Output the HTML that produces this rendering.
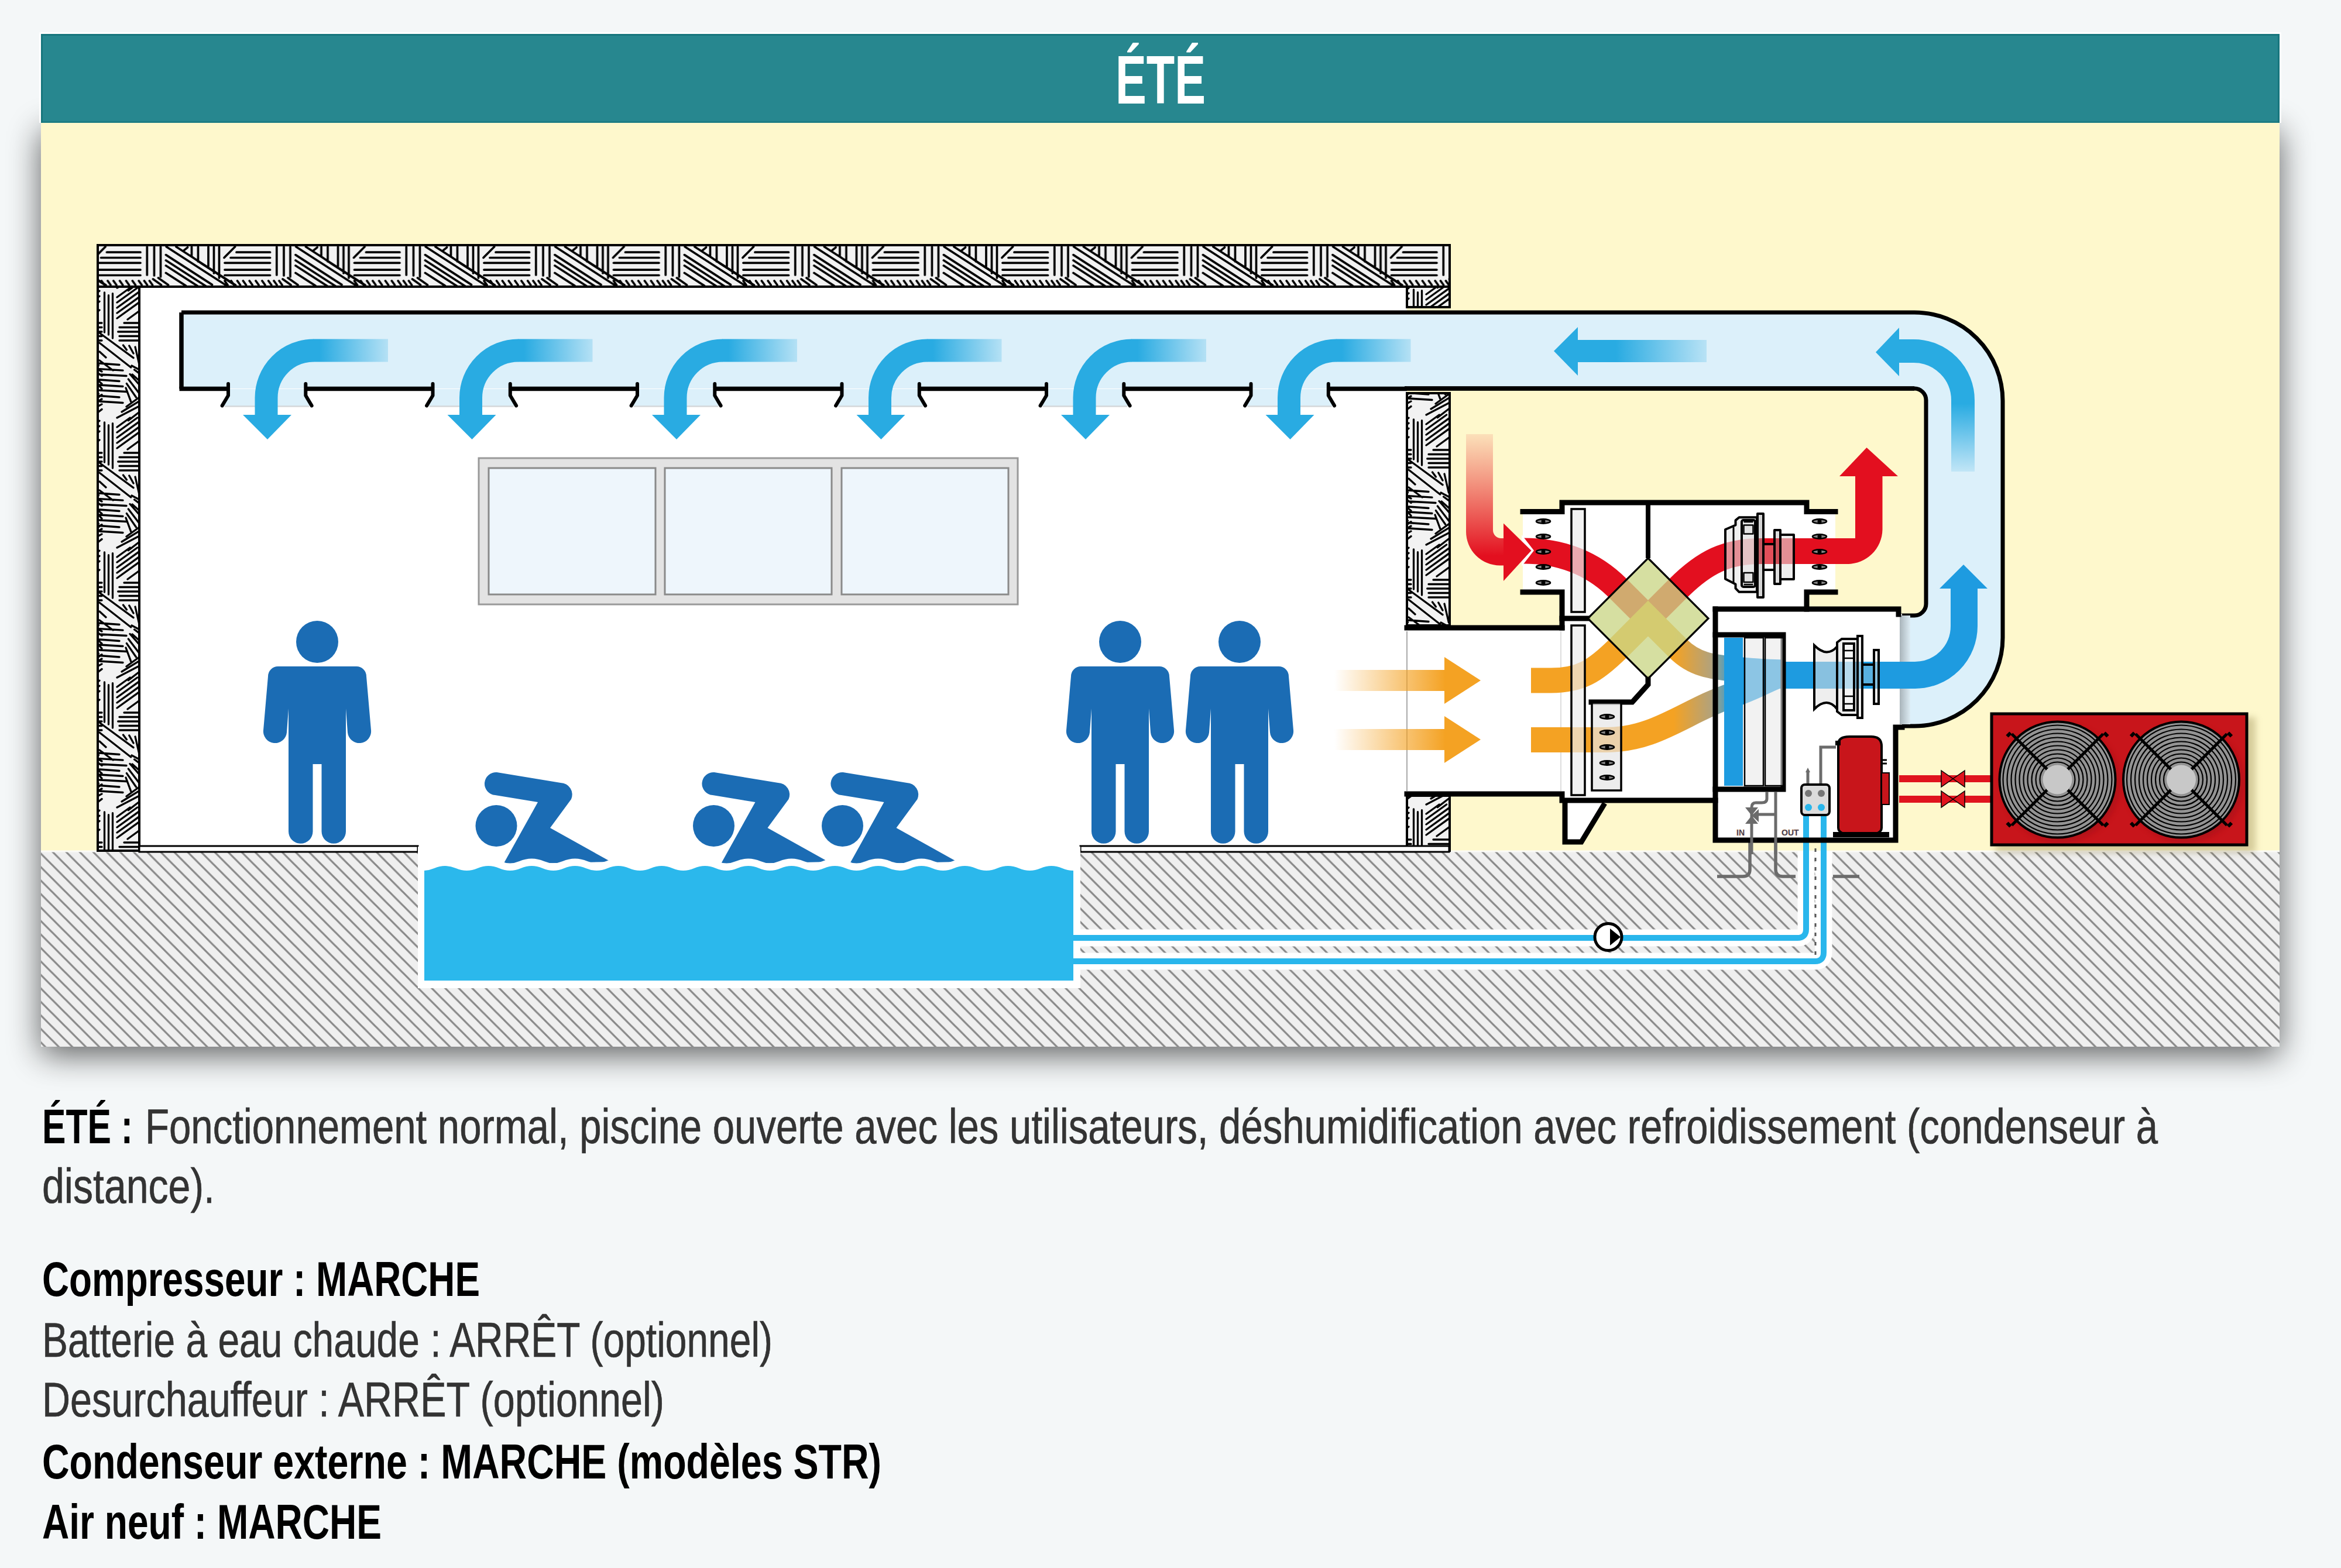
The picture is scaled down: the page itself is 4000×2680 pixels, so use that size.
<!DOCTYPE html><html><head><meta charset="utf-8"><style>html,body{margin:0;padding:0;background:#f4f7f8;}svg{display:block;}</style></head><body><svg width="4000" height="2680" viewBox="0 0 4000 2680"><defs><pattern id="ground" patternUnits="userSpaceOnUse" width="23.047" height="23.047" patternTransform="translate(158,1455)">
<rect width="23.047" height="23.047" fill="#efefef"/>
<path d="M-5,-5 L28.047,28.047 M-5,18.047 L5,28.047 M18.047,-5 L28.047,5" stroke="#888" stroke-width="3.2"/>
</pattern><filter id="shadow" x="-6%" y="-10%" width="112%" height="125%">
<feGaussianBlur stdDeviation="28"/><feOffset dy="14"/><feComponentTransfer><feFuncA type="linear" slope="0.62"/></feComponentTransfer></filter><pattern id="wallH" patternUnits="userSpaceOnUse" width="221.5" height="71" patternTransform="translate(384,419)"><rect width="221.5" height="71" fill="#f2f2f2"/><path d="M-201.5,12.2L-144.0,12.2M20.0,-58.8L77.5,-58.8M20.0,12.2L77.5,12.2M20.0,83.2L77.5,83.2M241.5,12.2L299.0,12.2M-211.5,21.5L-144.0,21.5M10.0,-49.5L77.5,-49.5M10.0,21.5L77.5,21.5M10.0,92.5L77.5,92.5M231.5,21.5L299.0,21.5M-221.5,30.3L-144.0,30.3M0.0,-40.7L77.5,-40.7M0.0,30.3L77.5,30.3M0.0,101.3L77.5,101.3M221.5,30.3L299.0,30.3M-221.5,42.1L-144.0,42.1M0.0,-28.9L77.5,-28.9M0.0,42.1L77.5,42.1M0.0,113.1L77.5,113.1M221.5,42.1L299.0,42.1M-221.5,51.5L-144.0,51.5M0.0,-19.5L77.5,-19.5M0.0,51.5L77.5,51.5M0.0,122.5L77.5,122.5M221.5,51.5L299.0,51.5M-222.5,21.5L-203.9,2.8M-1.0,-49.5L17.6,-68.2M-1.0,21.5L17.6,2.8M-1.0,92.5L17.6,73.8M220.5,21.5L239.1,2.8M-132.7,3.0L-132.7,51.0M88.8,-68.0L88.8,-20.0M88.8,3.0L88.8,51.0M88.8,74.0L88.8,122.0M310.3,3.0L310.3,51.0M-120.5,3.0L-120.5,52.0M101.0,-68.0L101.0,-19.0M101.0,3.0L101.0,52.0M101.0,74.0L101.0,123.0M322.5,3.0L322.5,52.0M-109.5,3.0L-109.5,54.0M112.0,-68.0L112.0,-17.0M112.0,3.0L112.0,54.0M112.0,74.0L112.0,125.0M333.5,3.0L333.5,54.0M-99.7,2.8L5.0,70.3M121.8,-68.2L226.5,-0.7M121.8,2.8L226.5,70.3M121.8,73.8L226.5,141.3M343.3,2.8L448.0,70.3M-83.0,2.8L18.5,68.3M138.5,-68.2L240.0,-2.7M138.5,2.8L240.0,68.3M138.5,73.8L240.0,139.3M360.0,2.8L461.5,68.3M-100.5,16.6L-21.5,67.6M121.0,-54.4L200.0,-3.4M121.0,16.6L200.0,67.6M121.0,87.6L200.0,138.6M342.5,16.6L421.5,67.6M-100.5,35.0L-46.5,69.8M121.0,-36.0L175.0,-1.2M121.0,35.0L175.0,69.8M121.0,106.0L175.0,140.8M342.5,35.0L396.5,69.8M-100.5,47.5L-66.5,69.4M121.0,-23.5L155.0,-1.6M121.0,47.5L155.0,69.4M121.0,118.5L155.0,140.4M342.5,47.5L376.5,69.4M-100.5,26.0L-31.5,70.5M121.0,-45.0L190.0,-0.5M121.0,26.0L190.0,70.5M121.0,97.0L190.0,141.5M342.5,26.0L411.5,70.5M-59.5,17.6L-38.8,32.0M162.0,-53.4L182.7,-39.0M162.0,17.6L182.7,32.0M162.0,88.6L182.7,103.0M383.5,17.6L404.2,32.0M-38.8,32.0L14.5,66.4M182.7,-39.0L236.0,-4.6M182.7,32.0L236.0,66.4M182.7,103.0L236.0,137.4M404.2,32.0L457.5,66.4M-70.5,9.7L-63.5,3.8M151.0,-61.3L158.0,-67.2M151.0,9.7L158.0,3.8M151.0,80.7L158.0,74.8M372.5,9.7L379.5,3.8M-56.5,3.0L-56.5,19.0M165.0,-68.0L165.0,-52.0M165.0,3.0L165.0,19.0M165.0,74.0L165.0,90.0M386.5,3.0L386.5,19.0M-45.5,3.0L-45.5,28.0M176.0,-68.0L176.0,-43.0M176.0,3.0L176.0,28.0M176.0,74.0L176.0,99.0M397.5,3.0L397.5,28.0M-28.0,3.0L-28.0,39.0M193.5,-68.0L193.5,-32.0M193.5,3.0L193.5,39.0M193.5,74.0L193.5,110.0M415.0,3.0L415.0,39.0M-18.5,3.0L-18.5,48.0M203.0,-68.0L203.0,-23.0M203.0,3.0L203.0,48.0M203.0,74.0L203.0,119.0M424.5,3.0L424.5,48.0M-9.5,3.0L-9.5,56.0M212.0,-68.0L212.0,-15.0M212.0,3.0L212.0,56.0M212.0,74.0L212.0,127.0M433.5,3.0L433.5,56.0M-221.5,61.0L-216.5,68.0M0.0,-10.0L5.0,-3.0M0.0,61.0L5.0,68.0M0.0,132.0L5.0,139.0M221.5,61.0L226.5,68.0M-210.5,61.0L-205.5,68.0M11.0,-10.0L16.0,-3.0M11.0,61.0L16.0,68.0M11.0,132.0L16.0,139.0M232.5,61.0L237.5,68.0M-200.0,61.0L-195.0,68.0M21.5,-10.0L26.5,-3.0M21.5,61.0L26.5,68.0M21.5,132.0L26.5,139.0M243.0,61.0L248.0,68.0M-190.1,61.0L-185.1,68.0M31.4,-10.0L36.4,-3.0M31.4,61.0L36.4,68.0M31.4,132.0L36.4,139.0M252.9,61.0L257.9,68.0M-179.3,61.0L-174.3,68.0M42.2,-10.0L47.2,-3.0M42.2,61.0L47.2,68.0M42.2,132.0L47.2,139.0M263.7,61.0L268.7,68.0M-168.5,61.0L-163.5,68.0M53.0,-10.0L58.0,-3.0M53.0,61.0L58.0,68.0M53.0,132.0L58.0,139.0M274.5,61.0L279.5,68.0M-157.6,61.0L-152.6,68.0M63.9,-10.0L68.9,-3.0M63.9,61.0L68.9,68.0M63.9,132.0L68.9,139.0M285.4,61.0L290.4,68.0M-146.8,61.0L-141.8,68.0M74.7,-10.0L79.7,-3.0M74.7,61.0L79.7,68.0M74.7,132.0L79.7,139.0M296.2,61.0L301.2,68.0M-137.5,61.0L-132.5,68.0M84.0,-10.0L89.0,-3.0M84.0,61.0L89.0,68.0M84.0,132.0L89.0,139.0M305.5,61.0L310.5,68.0M-128.5,61.0L-123.5,68.0M93.0,-10.0L98.0,-3.0M93.0,61.0L98.0,68.0M93.0,132.0L98.0,139.0M314.5,61.0L319.5,68.0M-122.5,58.0L-108.5,68.0M99.0,-13.0L113.0,-3.0M99.0,58.0L113.0,68.0M99.0,129.0L113.0,139.0M320.5,58.0L334.5,68.0M-113.5,56.0L-96.5,68.0M108.0,-15.0L125.0,-3.0M108.0,56.0L125.0,68.0M108.0,127.0L125.0,139.0M329.5,56.0L346.5,68.0" stroke="#000" stroke-width="3.7" stroke-linecap="round" fill="none"/></pattern><pattern id="wallV" patternUnits="userSpaceOnUse" width="70" height="222" patternTransform="translate(168,490)"><rect width="70" height="222" fill="#f2f2f2"/><path d="M-59.5,10.0L-59.5,78.0M10.5,-212.0L10.5,-144.0M10.5,10.0L10.5,78.0M10.5,232.0L10.5,300.0M80.5,10.0L80.5,78.0M-52.5,14.7L-52.5,82.0M17.5,-207.3L17.5,-140.0M17.5,14.7L17.5,82.0M17.5,236.7L17.5,304.0M87.5,14.7L87.5,82.0M-45.5,11.7L-45.5,88.0M24.5,-210.3L24.5,-134.0M24.5,11.7L24.5,88.0M24.5,233.7L24.5,310.0M94.5,11.7L94.5,88.0M-38.0,18.0L-15.8,2.0M32.0,-204.0L54.2,-220.0M32.0,18.0L54.2,2.0M32.0,240.0L54.2,224.0M102.0,18.0L124.2,2.0M-38.0,27.0L-3.3,2.0M32.0,-195.0L66.7,-220.0M32.0,27.0L66.7,2.0M32.0,249.0L66.7,224.0M102.0,27.0L136.7,2.0M-38.0,36.0L2.0,7.2M32.0,-186.0L72.0,-214.8M32.0,36.0L72.0,7.2M32.0,258.0L72.0,229.2M102.0,36.0L142.0,7.2M-38.0,45.0L2.0,16.2M32.0,-177.0L72.0,-205.8M32.0,45.0L72.0,16.2M32.0,267.0L72.0,238.2M102.0,45.0L142.0,16.2M-38.0,54.0L2.0,25.2M32.0,-168.0L72.0,-196.8M32.0,54.0L72.0,25.2M32.0,276.0L72.0,247.2M102.0,54.0L142.0,25.2M-20.0,56.0L2.0,40.0M50.0,-166.0L72.0,-182.0M50.0,56.0L72.0,40.0M50.0,278.0L72.0,262.0M120.0,56.0L142.0,40.0M-26.0,62.0L6.0,62.0M44.0,-160.0L76.0,-160.0M44.0,62.0L76.0,62.0M44.0,284.0L76.0,284.0M114.0,62.0L146.0,62.0M-34.0,69.5L6.0,69.5M36.0,-152.5L76.0,-152.5M36.0,69.5L76.0,69.5M36.0,291.5L76.0,291.5M106.0,69.5L146.0,69.5M-36.3,77.0L6.0,77.0M33.7,-145.0L76.0,-145.0M33.7,77.0L76.0,77.0M33.7,299.0L76.0,299.0M103.7,77.0L146.0,77.0M-34.0,84.5L6.0,84.5M36.0,-137.5L76.0,-137.5M36.0,84.5L76.0,84.5M36.0,306.5L76.0,306.5M106.0,84.5L146.0,84.5M-34.0,92.0L6.0,92.0M36.0,-130.0L76.0,-130.0M36.0,92.0L76.0,92.0M36.0,314.0L76.0,314.0M106.0,92.0L146.0,92.0M-68.0,79.0L-10.0,121.7M2.0,-143.0L60.0,-100.3M2.0,79.0L60.0,121.7M2.0,301.0L60.0,343.7M72.0,79.0L130.0,121.7M-68.0,96.0L-14.3,138.0M2.0,-126.0L55.7,-84.0M2.0,96.0L55.7,138.0M2.0,318.0L55.7,360.0M72.0,96.0L125.7,138.0M-68.0,111.0L-57.0,121.0M2.0,-111.0L13.0,-101.0M2.0,111.0L13.0,121.0M2.0,333.0L13.0,343.0M72.0,111.0L83.0,121.0M-68.0,126.0L-45.0,143.0M2.0,-96.0L25.0,-79.0M2.0,126.0L25.0,143.0M2.0,348.0L25.0,365.0M72.0,126.0L95.0,143.0M-27.5,100.0L-21.6,108.0M42.5,-122.0L48.4,-114.0M42.5,100.0L48.4,108.0M42.5,322.0L48.4,330.0M112.5,100.0L118.4,108.0M-17.2,101.0L-10.0,114.0M52.8,-121.0L60.0,-108.0M52.8,101.0L60.0,114.0M52.8,323.0L60.0,336.0M122.8,101.0L130.0,114.0M-7.0,103.0L0.4,134.9M63.0,-119.0L70.4,-87.1M63.0,103.0L70.4,134.9M63.0,325.0L70.4,356.9M133.0,103.0L140.4,134.9M-68.0,131.0L-34.0,133.5M2.0,-91.0L36.0,-88.5M2.0,131.0L36.0,133.5M2.0,353.0L36.0,355.5M72.0,131.0L106.0,133.5M-68.0,140.7L-28.0,143.2M2.0,-81.3L42.0,-78.8M2.0,140.7L42.0,143.2M2.0,362.7L42.0,365.2M72.0,140.7L112.0,143.2M-68.0,150.0L-22.0,152.5M2.0,-72.0L48.0,-69.5M2.0,150.0L48.0,152.5M2.0,372.0L48.0,374.5M72.0,150.0L118.0,152.5M-68.0,159.0L-34.0,161.5M2.0,-63.0L36.0,-60.5M2.0,159.0L36.0,161.5M2.0,381.0L36.0,383.5M72.0,159.0L106.0,161.5M-68.0,168.0L-28.0,170.5M2.0,-54.0L42.0,-51.5M2.0,168.0L42.0,170.5M2.0,390.0L42.0,392.5M72.0,168.0L112.0,170.5M-68.0,177.0L-22.0,179.5M2.0,-45.0L48.0,-42.5M2.0,177.0L48.0,179.5M2.0,399.0L48.0,401.5M72.0,177.0L118.0,179.5M-68.0,186.5L-34.0,189.0M2.0,-35.5L36.0,-33.0M2.0,186.5L36.0,189.0M2.0,408.5L36.0,411.0M72.0,186.5L106.0,189.0M-68.0,196.0L-28.0,198.5M2.0,-26.0L42.0,-23.5M2.0,196.0L42.0,198.5M2.0,418.0L42.0,420.5M72.0,196.0L112.0,198.5M-13.0,135.0L6.0,145.0M57.0,-87.0L76.0,-77.0M57.0,135.0L76.0,145.0M57.0,357.0L76.0,367.0M127.0,135.0L146.0,145.0M-8.4,142.0L6.0,152.5M61.6,-80.0L76.0,-69.5M61.6,142.0L76.0,152.5M61.6,364.0L76.0,374.5M131.6,142.0L146.0,152.5M-16.0,149.5L6.0,174.4M54.0,-72.5L76.0,-47.6M54.0,149.5L76.0,174.4M54.0,371.5L76.0,396.4M124.0,149.5L146.0,174.4M-18.7,158.0L0.4,183.0M51.3,-64.0L70.4,-39.0M51.3,158.0L70.4,183.0M51.3,380.0L70.4,405.0M121.3,158.0L140.4,183.0M-21.6,165.6L-5.5,189.0M48.4,-56.4L64.5,-33.0M48.4,165.6L64.5,189.0M48.4,387.6L64.5,411.0M118.4,165.6L134.5,189.0M-23.0,173.0L-14.3,196.4M47.0,-49.0L55.7,-25.6M47.0,173.0L55.7,196.4M47.0,395.0L55.7,418.4M117.0,173.0L125.7,196.4M-12.0,150.0L6.0,166.0M58.0,-72.0L76.0,-56.0M58.0,150.0L76.0,166.0M58.0,372.0L76.0,388.0M128.0,150.0L146.0,166.0M-22.0,205.0L6.0,184.7M48.0,-17.0L76.0,-37.3M48.0,205.0L76.0,184.7M48.0,427.0L76.0,406.7M118.0,205.0L146.0,184.7M-38.0,224.0L6.0,200.9M32.0,2.0L76.0,-21.1M32.0,224.0L76.0,200.9M32.0,446.0L76.0,422.9M102.0,224.0L146.0,200.9M-18.7,228.7L6.0,209.6M51.3,6.7L76.0,-12.4M51.3,228.7L76.0,209.6M51.3,450.7L76.0,431.6M121.3,228.7L146.0,209.6M-30.0,214.0L6.0,192.0M40.0,-8.0L76.0,-30.0M40.0,214.0L76.0,192.0M40.0,436.0L76.0,414.0M110.0,214.0L146.0,192.0" stroke="#000" stroke-width="3.3" stroke-linecap="round" fill="none"/></pattern><pattern id="wallV2" patternUnits="userSpaceOnUse" width="70" height="222" patternTransform="translate(2405,485)"><rect width="70" height="222" fill="#f2f2f2"/><path d="M-59.5,10.0L-59.5,78.0M10.5,-212.0L10.5,-144.0M10.5,10.0L10.5,78.0M10.5,232.0L10.5,300.0M80.5,10.0L80.5,78.0M-52.5,14.7L-52.5,82.0M17.5,-207.3L17.5,-140.0M17.5,14.7L17.5,82.0M17.5,236.7L17.5,304.0M87.5,14.7L87.5,82.0M-45.5,11.7L-45.5,88.0M24.5,-210.3L24.5,-134.0M24.5,11.7L24.5,88.0M24.5,233.7L24.5,310.0M94.5,11.7L94.5,88.0M-38.0,18.0L-15.8,2.0M32.0,-204.0L54.2,-220.0M32.0,18.0L54.2,2.0M32.0,240.0L54.2,224.0M102.0,18.0L124.2,2.0M-38.0,27.0L-3.3,2.0M32.0,-195.0L66.7,-220.0M32.0,27.0L66.7,2.0M32.0,249.0L66.7,224.0M102.0,27.0L136.7,2.0M-38.0,36.0L2.0,7.2M32.0,-186.0L72.0,-214.8M32.0,36.0L72.0,7.2M32.0,258.0L72.0,229.2M102.0,36.0L142.0,7.2M-38.0,45.0L2.0,16.2M32.0,-177.0L72.0,-205.8M32.0,45.0L72.0,16.2M32.0,267.0L72.0,238.2M102.0,45.0L142.0,16.2M-38.0,54.0L2.0,25.2M32.0,-168.0L72.0,-196.8M32.0,54.0L72.0,25.2M32.0,276.0L72.0,247.2M102.0,54.0L142.0,25.2M-20.0,56.0L2.0,40.0M50.0,-166.0L72.0,-182.0M50.0,56.0L72.0,40.0M50.0,278.0L72.0,262.0M120.0,56.0L142.0,40.0M-26.0,62.0L6.0,62.0M44.0,-160.0L76.0,-160.0M44.0,62.0L76.0,62.0M44.0,284.0L76.0,284.0M114.0,62.0L146.0,62.0M-34.0,69.5L6.0,69.5M36.0,-152.5L76.0,-152.5M36.0,69.5L76.0,69.5M36.0,291.5L76.0,291.5M106.0,69.5L146.0,69.5M-36.3,77.0L6.0,77.0M33.7,-145.0L76.0,-145.0M33.7,77.0L76.0,77.0M33.7,299.0L76.0,299.0M103.7,77.0L146.0,77.0M-34.0,84.5L6.0,84.5M36.0,-137.5L76.0,-137.5M36.0,84.5L76.0,84.5M36.0,306.5L76.0,306.5M106.0,84.5L146.0,84.5M-34.0,92.0L6.0,92.0M36.0,-130.0L76.0,-130.0M36.0,92.0L76.0,92.0M36.0,314.0L76.0,314.0M106.0,92.0L146.0,92.0M-68.0,79.0L-10.0,121.7M2.0,-143.0L60.0,-100.3M2.0,79.0L60.0,121.7M2.0,301.0L60.0,343.7M72.0,79.0L130.0,121.7M-68.0,96.0L-14.3,138.0M2.0,-126.0L55.7,-84.0M2.0,96.0L55.7,138.0M2.0,318.0L55.7,360.0M72.0,96.0L125.7,138.0M-68.0,111.0L-57.0,121.0M2.0,-111.0L13.0,-101.0M2.0,111.0L13.0,121.0M2.0,333.0L13.0,343.0M72.0,111.0L83.0,121.0M-68.0,126.0L-45.0,143.0M2.0,-96.0L25.0,-79.0M2.0,126.0L25.0,143.0M2.0,348.0L25.0,365.0M72.0,126.0L95.0,143.0M-27.5,100.0L-21.6,108.0M42.5,-122.0L48.4,-114.0M42.5,100.0L48.4,108.0M42.5,322.0L48.4,330.0M112.5,100.0L118.4,108.0M-17.2,101.0L-10.0,114.0M52.8,-121.0L60.0,-108.0M52.8,101.0L60.0,114.0M52.8,323.0L60.0,336.0M122.8,101.0L130.0,114.0M-7.0,103.0L0.4,134.9M63.0,-119.0L70.4,-87.1M63.0,103.0L70.4,134.9M63.0,325.0L70.4,356.9M133.0,103.0L140.4,134.9M-68.0,131.0L-34.0,133.5M2.0,-91.0L36.0,-88.5M2.0,131.0L36.0,133.5M2.0,353.0L36.0,355.5M72.0,131.0L106.0,133.5M-68.0,140.7L-28.0,143.2M2.0,-81.3L42.0,-78.8M2.0,140.7L42.0,143.2M2.0,362.7L42.0,365.2M72.0,140.7L112.0,143.2M-68.0,150.0L-22.0,152.5M2.0,-72.0L48.0,-69.5M2.0,150.0L48.0,152.5M2.0,372.0L48.0,374.5M72.0,150.0L118.0,152.5M-68.0,159.0L-34.0,161.5M2.0,-63.0L36.0,-60.5M2.0,159.0L36.0,161.5M2.0,381.0L36.0,383.5M72.0,159.0L106.0,161.5M-68.0,168.0L-28.0,170.5M2.0,-54.0L42.0,-51.5M2.0,168.0L42.0,170.5M2.0,390.0L42.0,392.5M72.0,168.0L112.0,170.5M-68.0,177.0L-22.0,179.5M2.0,-45.0L48.0,-42.5M2.0,177.0L48.0,179.5M2.0,399.0L48.0,401.5M72.0,177.0L118.0,179.5M-68.0,186.5L-34.0,189.0M2.0,-35.5L36.0,-33.0M2.0,186.5L36.0,189.0M2.0,408.5L36.0,411.0M72.0,186.5L106.0,189.0M-68.0,196.0L-28.0,198.5M2.0,-26.0L42.0,-23.5M2.0,196.0L42.0,198.5M2.0,418.0L42.0,420.5M72.0,196.0L112.0,198.5M-13.0,135.0L6.0,145.0M57.0,-87.0L76.0,-77.0M57.0,135.0L76.0,145.0M57.0,357.0L76.0,367.0M127.0,135.0L146.0,145.0M-8.4,142.0L6.0,152.5M61.6,-80.0L76.0,-69.5M61.6,142.0L76.0,152.5M61.6,364.0L76.0,374.5M131.6,142.0L146.0,152.5M-16.0,149.5L6.0,174.4M54.0,-72.5L76.0,-47.6M54.0,149.5L76.0,174.4M54.0,371.5L76.0,396.4M124.0,149.5L146.0,174.4M-18.7,158.0L0.4,183.0M51.3,-64.0L70.4,-39.0M51.3,158.0L70.4,183.0M51.3,380.0L70.4,405.0M121.3,158.0L140.4,183.0M-21.6,165.6L-5.5,189.0M48.4,-56.4L64.5,-33.0M48.4,165.6L64.5,189.0M48.4,387.6L64.5,411.0M118.4,165.6L134.5,189.0M-23.0,173.0L-14.3,196.4M47.0,-49.0L55.7,-25.6M47.0,173.0L55.7,196.4M47.0,395.0L55.7,418.4M117.0,173.0L125.7,196.4M-12.0,150.0L6.0,166.0M58.0,-72.0L76.0,-56.0M58.0,150.0L76.0,166.0M58.0,372.0L76.0,388.0M128.0,150.0L146.0,166.0M-22.0,205.0L6.0,184.7M48.0,-17.0L76.0,-37.3M48.0,205.0L76.0,184.7M48.0,427.0L76.0,406.7M118.0,205.0L146.0,184.7M-38.0,224.0L6.0,200.9M32.0,2.0L76.0,-21.1M32.0,224.0L76.0,200.9M32.0,446.0L76.0,422.9M102.0,224.0L146.0,200.9M-18.7,228.7L6.0,209.6M51.3,6.7L76.0,-12.4M51.3,228.7L76.0,209.6M51.3,450.7L76.0,431.6M121.3,228.7L146.0,209.6M-30.0,214.0L6.0,192.0M40.0,-8.0L76.0,-30.0M40.0,214.0L76.0,192.0M40.0,436.0L76.0,414.0M110.0,214.0L146.0,192.0" stroke="#000" stroke-width="3.3" stroke-linecap="round" fill="none"/></pattern><clipPath id="cPool"><rect x="725" y="1400" width="1109" height="300"/></clipPath><linearGradient id="gStrip" x1="0" y1="0" x2="1" y2="0"><stop offset="0" stop-color="#a9b4ba"/><stop offset="1" stop-color="#dcebf3"/></linearGradient><clipPath id="cGround"><rect x="70" y="1455" width="3825" height="335"/></clipPath><linearGradient id="gRedV" gradientUnits="userSpaceOnUse" x1="0" y1="742" x2="0" y2="950">
<stop offset="0" stop-color="#e8302f" stop-opacity="0.12"/><stop offset="1" stop-color="#e30f1f"/></linearGradient><linearGradient id="gOrg" gradientUnits="userSpaceOnUse" x1="2280" y1="0" x2="2470" y2="0">
<stop offset="0" stop-color="#f4a223" stop-opacity="0"/><stop offset="1" stop-color="#f4a223"/></linearGradient><linearGradient id="gOB" gradientUnits="userSpaceOnUse" x1="2860" y1="0" x2="2965" y2="0">
<stop offset="0" stop-color="#f4a223"/><stop offset="0.6" stop-color="#b3a27a"/><stop offset="1" stop-color="#1e9be0"/></linearGradient><filter id="cshadow" x="-10%" y="-10%" width="130%" height="130%"><feGaussianBlur stdDeviation="6"/></filter><linearGradient id="gArrH" gradientUnits="objectBoundingBox" x1="0" y1="0" x2="1" y2="0">
<stop offset="0" stop-color="#29abe2"/><stop offset="0.08" stop-color="#29abe2"/><stop offset="1" stop-color="#29abe2" stop-opacity="0.22"/></linearGradient><linearGradient id="gArrL" gradientUnits="userSpaceOnUse" x1="2695" y1="0" x2="2916" y2="0">
<stop offset="0" stop-color="#29abe2"/><stop offset="0.3" stop-color="#29abe2"/><stop offset="1" stop-color="#29abe2" stop-opacity="0.2"/></linearGradient><linearGradient id="gArrV" gradientUnits="userSpaceOnUse" x1="0" y1="690" x2="0" y2="806">
<stop offset="0" stop-color="#29abe2"/><stop offset="1" stop-color="#29abe2" stop-opacity="0.15"/></linearGradient></defs><rect x="0" y="0" width="4000" height="2680" fill="#f4f7f8"/><g filter="url(#shadow)"><rect x="70" y="210" width="3825" height="1579" fill="#000"/></g><rect x="70" y="58" width="3825" height="152" fill="#27878f"/><rect x="70" y="58" width="3825" height="3" fill="#17767d"/><rect x="70" y="207" width="3825" height="3" fill="#1d7c83"/><rect x="70" y="58" width="3" height="152" fill="#17767d"/><rect x="3892" y="58" width="3" height="152" fill="#17767d"/><path d="M68.5,210 V56.5 H3896.5 V210" fill="none" stroke="#fff" stroke-width="2.5"/><rect x="70" y="210" width="3825" height="1579" fill="#fef8cc"/><rect x="70" y="1455" width="3825" height="334" fill="url(#ground)"/><rect x="70" y="1453.5" width="3825" height="3" fill="#fbfbf6"/><text x="1983" y="177" text-anchor="middle" font-family="Liberation Sans" font-weight="bold" font-size="116" fill="#fff" textLength="154" lengthAdjust="spacingAndGlyphs">ÉTÉ</text><rect x="238" y="490" width="2166" height="964" fill="#fff"/><rect x="167" y="419" width="2310" height="71" fill="url(#wallH)" stroke="#000" stroke-width="4"/><rect x="167" y="490" width="71" height="964" fill="url(#wallV)" stroke="#000" stroke-width="4"/><rect x="2404" y="490" width="73" height="35" fill="url(#wallV2)" stroke="#000" stroke-width="4"/><rect x="2404" y="672" width="73" height="397" fill="url(#wallV2)" stroke="#000" stroke-width="4"/><rect x="2404" y="1360" width="73" height="94" fill="url(#wallV2)" stroke="#000" stroke-width="4"/><rect x="238" y="1446" width="476" height="10" fill="#fff" stroke="#000" stroke-width="3"/><rect x="1846" y="1446" width="630" height="10" fill="#fff" stroke="#000" stroke-width="3"/><rect x="714" y="1447" width="1132" height="242" fill="#fff"/><rect x="818" y="783" width="921" height="250" fill="#e3e3e3" stroke="#999" stroke-width="3"/><rect x="835" y="800" width="285" height="216" fill="#eef6fc" stroke="#8a8a8a" stroke-width="3"/><rect x="1136" y="800" width="285" height="216" fill="#eef6fc" stroke="#8a8a8a" stroke-width="3"/><rect x="1438" y="800" width="285" height="216" fill="#eef6fc" stroke="#8a8a8a" stroke-width="3"/><g fill="#1b6cb4"><circle cx="542" cy="1097" r="36"/><path d="M458,1156 A17,17 0 0 1 475,1139 H609 A17,17 0 0 1 626,1156 L634,1248 A20,20 0 0 1 594,1252 L591,1211 V1421 A20.75,20.75 0 0 1 549.5,1421 V1306 H534.5 V1421 A20.75,20.75 0 0 1 493,1421 V1211 L490,1252 A20,20 0 0 1 450,1248 Z"/></g><g fill="#1b6cb4"><circle cx="1914" cy="1097" r="36"/><path d="M1830,1156 A17,17 0 0 1 1847,1139 H1981 A17,17 0 0 1 1998,1156 L2006,1248 A20,20 0 0 1 1966,1252 L1963,1211 V1421 A20.75,20.75 0 0 1 1921.5,1421 V1306 H1906.5 V1421 A20.75,20.75 0 0 1 1865,1421 V1211 L1862,1252 A20,20 0 0 1 1822,1248 Z"/></g><g fill="#1b6cb4"><circle cx="2118" cy="1097" r="36"/><path d="M2034,1156 A17,17 0 0 1 2051,1139 H2185 A17,17 0 0 1 2202,1156 L2210,1248 A20,20 0 0 1 2170,1252 L2167,1211 V1421 A20.75,20.75 0 0 1 2125.5,1421 V1306 H2110.5 V1421 A20.75,20.75 0 0 1 2069,1421 V1211 L2066,1252 A20,20 0 0 1 2026,1248 Z"/></g><g fill="#1b6cb4" transform="translate(0,0)"><circle cx="848" cy="1411.5" r="35.5"/><path d="M849,1320 L958,1338 A20,20 0 0 1 976,1366 L940,1415 L1044,1473 L860,1477 L919,1371 L846,1359 A19.5,19.5 0 0 1 849,1320 Z"/></g><g fill="#1b6cb4" transform="translate(371.5,0)"><circle cx="848" cy="1411.5" r="35.5"/><path d="M849,1320 L958,1338 A20,20 0 0 1 976,1366 L940,1415 L1044,1473 L860,1477 L919,1371 L846,1359 A19.5,19.5 0 0 1 849,1320 Z"/></g><g fill="#1b6cb4" transform="translate(591.5,0)"><circle cx="848" cy="1411.5" r="35.5"/><path d="M849,1320 L958,1338 A20,20 0 0 1 976,1366 L940,1415 L1044,1473 L860,1477 L919,1371 L846,1359 A19.5,19.5 0 0 1 849,1320 Z"/></g><path d="M668,1478 Q686.5,1470 705.0,1478 Q723.5,1486 742,1478 Q760.5,1470 779.0,1478 Q797.5,1486 816,1478 Q834.5,1470 853.0,1478 Q871.5,1486 890,1478 Q908.5,1470 927.0,1478 Q945.5,1486 964,1478 Q982.5,1470 1001.0,1478 Q1019.5,1486 1038,1478 Q1056.5,1470 1075.0,1478 Q1093.5,1486 1112,1478 Q1130.5,1470 1149.0,1478 Q1167.5,1486 1186,1478 Q1204.5,1470 1223.0,1478 Q1241.5,1486 1260,1478 Q1278.5,1470 1297.0,1478 Q1315.5,1486 1334,1478 Q1352.5,1470 1371.0,1478 Q1389.5,1486 1408,1478 Q1426.5,1470 1445.0,1478 Q1463.5,1486 1482,1478 Q1500.5,1470 1519.0,1478 Q1537.5,1486 1556,1478 Q1574.5,1470 1593.0,1478 Q1611.5,1486 1630,1478 Q1648.5,1470 1667.0,1478 Q1685.5,1486 1704,1478 Q1722.5,1470 1741.0,1478 Q1759.5,1486 1778,1478 Q1796.5,1470 1815.0,1478 Q1833.5,1486 1852,1478 Q1870.5,1470 1889.0,1478 Q1907.5,1486 1926,1478 " fill="none" stroke="#fff" stroke-width="13" clip-path="url(#cPool)"/><path d="M668,1676 L668,1484 Q686.5,1476 705.0,1484 Q723.5,1492 742,1484 Q760.5,1476 779.0,1484 Q797.5,1492 816,1484 Q834.5,1476 853.0,1484 Q871.5,1492 890,1484 Q908.5,1476 927.0,1484 Q945.5,1492 964,1484 Q982.5,1476 1001.0,1484 Q1019.5,1492 1038,1484 Q1056.5,1476 1075.0,1484 Q1093.5,1492 1112,1484 Q1130.5,1476 1149.0,1484 Q1167.5,1492 1186,1484 Q1204.5,1476 1223.0,1484 Q1241.5,1492 1260,1484 Q1278.5,1476 1297.0,1484 Q1315.5,1492 1334,1484 Q1352.5,1476 1371.0,1484 Q1389.5,1492 1408,1484 Q1426.5,1476 1445.0,1484 Q1463.5,1492 1482,1484 Q1500.5,1476 1519.0,1484 Q1537.5,1492 1556,1484 Q1574.5,1476 1593.0,1484 Q1611.5,1492 1630,1484 Q1648.5,1476 1667.0,1484 Q1685.5,1492 1704,1484 Q1722.5,1476 1741.0,1484 Q1759.5,1492 1778,1484 Q1796.5,1476 1815.0,1484 Q1833.5,1492 1852,1484 Q1870.5,1476 1889.0,1484 Q1907.5,1492 1926,1484 L1926,1676 Z" fill="#2bb8ec" clip-path="url(#cPool)"/><path d="M310,534 H3271 A151,151 0 0 1 3422,685 V1090 A151,151 0 0 1 3271,1241 H3249 V1052 H3271 A20,20 0 0 0 3291,1032 V684 A20,20 0 0 0 3271,664 H310 Z" fill="#dcf0fa" stroke="none"/><path d="M310,534 H3271 A151,151 0 0 1 3422,685 V1090 A151,151 0 0 1 3271,1241 H3249" fill="none" stroke="#000" stroke-width="7"/><path d="M3240,1052 H3271 A20,20 0 0 0 3291,1032 V684 A20,20 0 0 0 3271,664 H2400" fill="none" stroke="#000" stroke-width="7"/><path d="M310,664.5 V534" fill="none" stroke="#000" stroke-width="7.5"/><path d="M379.6,694 L390.0,676 V665 H522.3 V676 L532.6,694 Z" fill="#dcf0fa"/><path d="M384.0,694.5 H528.0" stroke="#d4d8da" stroke-width="2.5"/><path d="M390.0,656 V676 L379.6,693.4 M522.3,656 V676 L532.6,693.4" fill="none" stroke="#000" stroke-width="6" stroke-linecap="round" stroke-linejoin="round"/><path d="M729.1,694 L739.5,676 V665 H871.8 V676 L882.1,694 Z" fill="#dcf0fa"/><path d="M733.5,694.5 H877.5" stroke="#d4d8da" stroke-width="2.5"/><path d="M739.5,656 V676 L729.1,693.4 M871.8,656 V676 L882.1,693.4" fill="none" stroke="#000" stroke-width="6" stroke-linecap="round" stroke-linejoin="round"/><path d="M1078.6,694 L1089.0,676 V665 H1221.3 V676 L1231.6,694 Z" fill="#dcf0fa"/><path d="M1083.0,694.5 H1227.0" stroke="#d4d8da" stroke-width="2.5"/><path d="M1089.0,656 V676 L1078.6,693.4 M1221.3,656 V676 L1231.6,693.4" fill="none" stroke="#000" stroke-width="6" stroke-linecap="round" stroke-linejoin="round"/><path d="M1428.1,694 L1438.5,676 V665 H1570.8 V676 L1581.1,694 Z" fill="#dcf0fa"/><path d="M1432.5,694.5 H1576.5" stroke="#d4d8da" stroke-width="2.5"/><path d="M1438.5,656 V676 L1428.1,693.4 M1570.8,656 V676 L1581.1,693.4" fill="none" stroke="#000" stroke-width="6" stroke-linecap="round" stroke-linejoin="round"/><path d="M1777.6,694 L1788.0,676 V665 H1920.3 V676 L1930.6,694 Z" fill="#dcf0fa"/><path d="M1782.0,694.5 H1926.0" stroke="#d4d8da" stroke-width="2.5"/><path d="M1788.0,656 V676 L1777.6,693.4 M1920.3,656 V676 L1930.6,693.4" fill="none" stroke="#000" stroke-width="6" stroke-linecap="round" stroke-linejoin="round"/><path d="M2127.1,694 L2137.5,676 V665 H2269.8 V676 L2280.1,694 Z" fill="#dcf0fa"/><path d="M2131.5,694.5 H2275.5" stroke="#d4d8da" stroke-width="2.5"/><path d="M2137.5,656 V676 L2127.1,693.4 M2269.8,656 V676 L2280.1,693.4" fill="none" stroke="#000" stroke-width="6" stroke-linecap="round" stroke-linejoin="round"/><path d="M306.5,664.5 H390 M522.3,664.5 H739.5 M871.8,664.5 H1089.0 M1221.3,664.5 H1438.5 M1570.8,664.5 H1788.0 M1920.3,664.5 H2137.5 M2269.8,664.5 H2404 " fill="none" stroke="#000" stroke-width="7.5"/><path d="M2400,664 H3271" fill="none" stroke="#000" stroke-width="7.5"/><path d="M2669,859 H3087 V874 H3136 V1012 H3087 V1041 H3244 V1049 H3250 V1241 H3239 V1436 H2931 V1368 H2669 V1357 H2404 V1073 H2669 V1012 H2602 V874 H2669 Z" fill="#fff"/><path d="M2674,1368 V1439 H2702 L2742,1373" fill="#fff" stroke="#000" stroke-width="9" stroke-linejoin="miter"/><line x1="2667" y1="1079" x2="2667" y2="1352" stroke="#ddd" stroke-width="2"/><line x1="2404" y1="1079" x2="2404" y2="1352" stroke="#aaa" stroke-width="2"/><rect x="3246" y="1052" width="18" height="186" fill="url(#gStrip)"/><path d="M1834,1603 H3071 Q3086,1603 3086,1588 V1436" fill="none" stroke="#fff" stroke-width="29" stroke-linejoin="round" clip-path="url(#cGround)"/><path d="M1834,1643 H3101 Q3116,1643 3116,1628 V1436" fill="none" stroke="#fff" stroke-width="29" stroke-linejoin="round" clip-path="url(#cGround)"/><path d="M2934,1498 H2978 Q2990,1498 2990,1486 V1440" fill="none" stroke="#6b6b6b" stroke-width="5.5"/><path d="M3034,1440 V1486 Q3034,1498 3046,1498 H3068" fill="none" stroke="#6b6b6b" stroke-width="5.5"/><path d="M3132,1498 H3177" fill="none" stroke="#6b6b6b" stroke-width="5.5"/><path d="M3102,1450 V1640" fill="none" stroke="#555" stroke-width="3" stroke-dasharray="6,10"/><path d="M1834,1603 H3071 Q3086,1603 3086,1588 V1393" fill="none" stroke="#29b6ec" stroke-width="10"/><path d="M1834,1643 H3101 Q3116,1643 3116,1628 V1393" fill="none" stroke="#29b6ec" stroke-width="10"/><circle cx="2748" cy="1601.5" r="23" fill="#fff" stroke="#000" stroke-width="5"/><path d="M2751,1587 L2769,1601.5 L2751,1616 Z" fill="#000"/><path d="M2505,742 H2551 V906 A14,14 0 0 0 2565,920 H2572 V966.5 H2563 A58,58 0 0 1 2505,908.5 Z" fill="url(#gRedV)"/><path d="M2603,941.5 C2665,941.5 2719.5,960.5 2764.5,1005.5 L2816,1057 L2867.5,1005.5 C2912.5,960.5 2950,942 3010,942 H3160" fill="none" stroke="#e30f1f" stroke-width="44" stroke-linejoin="miter" stroke-miterlimit="4"/><path d="M2600,914 L2621,941 L2600,968 Z" fill="#fff"/><path d="M2569,894.5 L2616.5,941 L2569,993 Z" fill="#e30f1f"/><path d="M3150,920 H3170 V813 H3216.5 V905 A60,60 0 0 1 3156.5,964 H3150 Z" fill="#e30f1f"/><path d="M3143,814 L3189.5,765 L3243,814 Z" fill="#e30f1f"/><rect x="2280" y="1145" width="190" height="36" fill="url(#gOrg)"/><path d="M2468,1123 L2530,1163 L2468,1203 Z" fill="#f4a223"/><rect x="2280" y="1246" width="190" height="36" fill="url(#gOrg)"/><path d="M2468,1224 L2530,1264 L2468,1304 Z" fill="#f4a223"/><path d="M2616,1264.5 H2745 C2830,1264.5 2880,1215 2960,1188 C3000,1175 3025,1158 3047,1152" fill="none" stroke="url(#gOB)" stroke-width="43"/><path d="M2616,1163 H2650 C2700,1163 2725,1147.5 2764.5,1108.5 L2816,1057 L2867.5,1108.5 C2895,1136 2925,1140 2965,1144 C3010,1148 3030,1149 3047,1149" fill="none" stroke="url(#gOB)" stroke-width="43" stroke-linejoin="miter"/><path d="M3040,1154 H3272 A84,84 0 0 0 3356,1070 V1005" fill="none" stroke="#1e9be0" stroke-width="46"/><path d="M3314,1006 L3355,965 L3396,1006 Z" fill="#1e9be0"/><path d="M2602,874.5 H2669 V859 H3087 V874.5 H3136" fill="none" stroke="#000" stroke-width="9" stroke-linejoin="miter" stroke-linecap="square"/><path d="M2602,1012 H2669 V1073" fill="none" stroke="#000" stroke-width="9" stroke-linejoin="miter" stroke-linecap="square"/><path d="M3136,1012 H3087 V1041" fill="none" stroke="#000" stroke-width="9" stroke-linejoin="miter" stroke-linecap="square"/><path d="M2404,1073 H2669" fill="none" stroke="#000" stroke-width="9" stroke-linejoin="miter" stroke-linecap="square"/><path d="M2404,1357 H2669 V1368 H2931" fill="none" stroke="#000" stroke-width="9" stroke-linejoin="miter" stroke-linecap="square"/><path d="M2669,1057 H2713" fill="none" stroke="#000" stroke-width="9" stroke-linejoin="miter" stroke-linecap="square"/><path d="M2931,1041 V1436 H3239 V1243 H3250" fill="none" stroke="#000" stroke-width="9" stroke-linejoin="miter" stroke-linecap="square"/><path d="M2931,1041 H3244 V1050" fill="none" stroke="#000" stroke-width="9" stroke-linejoin="miter" stroke-linecap="square"/><path d="M2931,1085 H3047 V1349 H2931" fill="none" stroke="#000" stroke-width="9" stroke-linejoin="miter" stroke-linecap="square"/><path d="M2816,1160 V1170 L2789,1200 H2719" fill="none" stroke="#000" stroke-width="9" stroke-linejoin="miter" stroke-linecap="square"/><path d="M2816,859 V954" stroke="#000" stroke-width="8"/><path d="M2816,954 L2919,1057 L2816,1160 L2713,1057 Z" fill="#cbd687" fill-opacity="0.78" stroke="#000" stroke-width="3.2"/><rect x="2685" y="870" width="23" height="176" fill="#ececec" fill-opacity="0.7" stroke="#000" stroke-width="3.5"/><rect x="2685" y="1069" width="23" height="290" fill="#ececec" fill-opacity="0.7" stroke="#000" stroke-width="3.5"/><rect x="2720" y="1201" width="50" height="150" fill="#e6e6e6" fill-opacity="0.7" stroke="#000" stroke-width="3.5"/><g><ellipse cx="2746" cy="1225" rx="12" ry="3.6" fill="#888" stroke="#000" stroke-width="2.6"/><ellipse cx="2746" cy="1225" rx="3.5" ry="3.8" fill="#000"/></g><g><ellipse cx="2746" cy="1252" rx="12" ry="3.6" fill="#888" stroke="#000" stroke-width="2.6"/><ellipse cx="2746" cy="1252" rx="3.5" ry="3.8" fill="#000"/></g><g><ellipse cx="2746" cy="1277" rx="12" ry="3.6" fill="#888" stroke="#000" stroke-width="2.6"/><ellipse cx="2746" cy="1277" rx="3.5" ry="3.8" fill="#000"/></g><g><ellipse cx="2746" cy="1304" rx="12" ry="3.6" fill="#888" stroke="#000" stroke-width="2.6"/><ellipse cx="2746" cy="1304" rx="3.5" ry="3.8" fill="#000"/></g><g><ellipse cx="2746" cy="1329" rx="12" ry="3.6" fill="#888" stroke="#000" stroke-width="2.6"/><ellipse cx="2746" cy="1329" rx="3.5" ry="3.8" fill="#000"/></g><g><ellipse cx="2637" cy="891" rx="12" ry="3.6" fill="#888" stroke="#000" stroke-width="2.6"/><ellipse cx="2637" cy="891" rx="3.5" ry="3.8" fill="#000"/></g><g><ellipse cx="3109" cy="891" rx="12" ry="3.6" fill="#888" stroke="#000" stroke-width="2.6"/><ellipse cx="3109" cy="891" rx="3.5" ry="3.8" fill="#000"/></g><g><ellipse cx="2637" cy="917" rx="12" ry="3.6" fill="#888" stroke="#000" stroke-width="2.6"/><ellipse cx="2637" cy="917" rx="3.5" ry="3.8" fill="#000"/></g><g><ellipse cx="3109" cy="917" rx="12" ry="3.6" fill="#888" stroke="#000" stroke-width="2.6"/><ellipse cx="3109" cy="917" rx="3.5" ry="3.8" fill="#000"/></g><g><ellipse cx="2637" cy="943" rx="12" ry="3.6" fill="#888" stroke="#000" stroke-width="2.6"/><ellipse cx="2637" cy="943" rx="3.5" ry="3.8" fill="#000"/></g><g><ellipse cx="3109" cy="943" rx="12" ry="3.6" fill="#888" stroke="#000" stroke-width="2.6"/><ellipse cx="3109" cy="943" rx="3.5" ry="3.8" fill="#000"/></g><g><ellipse cx="2637" cy="969" rx="12" ry="3.6" fill="#888" stroke="#000" stroke-width="2.6"/><ellipse cx="2637" cy="969" rx="3.5" ry="3.8" fill="#000"/></g><g><ellipse cx="3109" cy="969" rx="12" ry="3.6" fill="#888" stroke="#000" stroke-width="2.6"/><ellipse cx="3109" cy="969" rx="3.5" ry="3.8" fill="#000"/></g><g><ellipse cx="2637" cy="996" rx="12" ry="3.6" fill="#888" stroke="#000" stroke-width="2.6"/><ellipse cx="2637" cy="996" rx="3.5" ry="3.8" fill="#000"/></g><g><ellipse cx="3109" cy="996" rx="12" ry="3.6" fill="#888" stroke="#000" stroke-width="2.6"/><ellipse cx="3109" cy="996" rx="3.5" ry="3.8" fill="#000"/></g><rect x="2946" y="1090" width="32" height="253" fill="#1e9be0"/><rect x="2981" y="1090" width="32" height="253" fill="#e8e8e8" fill-opacity="0.55" stroke="#000" stroke-width="2.5"/><rect x="3016" y="1090" width="31" height="253" fill="#e8e8e8" fill-opacity="0.55" stroke="#000" stroke-width="2.5"/><g stroke="#000" stroke-width="4" fill="#e4e4e4" fill-opacity="0.6" stroke-linejoin="round"><path d="M2948,905 L2965.5,897.5 V889.4 L2971.6,884.3 H3002 V1011.8 H2971.6 L2965.5,1005.7 V998.6 L2948,989.4 Z"/><path d="M2962,901 V996" fill="none" stroke-width="3"/><rect x="2976" y="889" width="23" height="114" rx="3"/><rect x="2979.5" y="897.5" width="16" height="15" fill="#ddd" fill-opacity="0.6" stroke-width="2.5"/><rect x="2979.5" y="979" width="16" height="16" fill="#ddd" fill-opacity="0.6" stroke-width="2.5"/><path d="M2979.5,892 H2995.5 M2979.5,999 H2995.5" stroke-width="2.5"/><rect x="3003" y="878" width="10" height="143" fill="#aaa" fill-opacity="0.5"/><rect x="3013" y="930" width="19" height="44" fill-opacity="0.3"/><rect x="3032" y="906" width="10" height="92" fill="#aaa" fill-opacity="0.4"/><rect x="3042" y="914" width="23" height="76"/></g><g stroke="#000" stroke-width="4" fill="#e0e0e0" fill-opacity="0.55"><path d="M3100,1103 Q3122,1125 3139,1105 V1212 Q3122,1190 3100,1212 Z"/><path d="M3139,1098 L3147,1092 H3174 V1222 H3147 L3139,1216 Z"/><rect x="3150" y="1100" width="18" height="114" fill="#fff" fill-opacity="0.4"/><path d="M3150,1112 H3168 M3150,1125 H3168 M3150,1190 H3168 M3150,1203 H3168" stroke-width="2.5"/><rect x="3174" y="1087" width="8" height="140"/><rect x="3182" y="1136" width="20" height="34" fill-opacity="0.3"/><rect x="3202" y="1111" width="8" height="92"/></g><g stroke="#6b6b6b" stroke-width="5" fill="none"><path d="M2993,1460 V1380 M3034,1353 V1460 M3034,1392 H3000 M3019,1353 V1365 Q3019,1372 3010,1372 H3000 Q2993,1372 2993,1380"/></g><path d="M2982,1380 L3004,1380 L2993,1394 Z M2982,1408 L3004,1408 L2993,1394 Z M3005,1383 L3005,1405 L2993,1394 Z" fill="#6b6b6b"/><text x="2967" y="1428" font-family="Liberation Sans" font-weight="bold" font-size="14" fill="#223060" stroke="#d89040" stroke-width="0.4">IN</text><text x="3044" y="1428" font-family="Liberation Sans" font-weight="bold" font-size="14" fill="#223060" stroke="#d89040" stroke-width="0.4">OUT</text><path d="M3111,1341 V1277 H3137" fill="none" stroke="#6b6b6b" stroke-width="5"/><path d="M3089,1341 V1318" fill="none" stroke="#6b6b6b" stroke-width="5"/><path d="M3085,1320 L3089,1312 L3093,1320 Z" fill="#6b6b6b"/><rect x="3078" y="1341" width="48" height="52" rx="6" fill="#dcdcdc" stroke="#000" stroke-width="4"/><circle cx="3090" cy="1356" r="6" fill="#777"/><circle cx="3112" cy="1356" r="6" fill="#777"/><circle cx="3090" cy="1380" r="6" fill="#29b6ec"/><circle cx="3112" cy="1380" r="6" fill="#29b6ec"/><path d="M3141,1272 Q3141,1259 3160,1259 H3197 Q3215,1259 3215,1275 V1415 Q3215,1428 3178,1428 Q3141,1428 3141,1415 Z" fill="#c8151b" stroke="#000" stroke-width="4"/><rect x="3215" y="1321" width="13" height="54" fill="#c8151b" stroke="#000" stroke-width="2"/><path d="M3215,1299 H3224 M3215,1305 H3224" stroke="#000" stroke-width="3"/><rect x="3132" y="1422" width="96" height="9" fill="#000"/><path d="M3136,1270 H3145" stroke="#000" stroke-width="8"/><rect x="3410" y="1226" width="444" height="232" fill="#8a7a40" opacity="0.35" filter="url(#cshadow)"/><rect x="3245" y="1325" width="158" height="12" fill="#e0141e"/><path d="M3317,1317 L3337,1331 L3317,1345 Z M3357,1317 L3337,1331 L3357,1345 Z" fill="#e0141e" stroke="#000" stroke-width="1.5"/><rect x="3245" y="1360" width="158" height="12" fill="#e0141e"/><path d="M3317,1352 L3337,1366 L3317,1380 Z M3357,1352 L3337,1366 L3357,1380 Z" fill="#e0141e" stroke="#000" stroke-width="1.5"/><rect x="3403" y="1220" width="436" height="224" fill="#c8151b" stroke="#000" stroke-width="5"/><g><circle cx="3521.5" cy="1338.5" r="99" fill="#8a0d12" opacity="0.45" filter="url(#cshadow)"/><circle cx="3515.5" cy="1332.5" r="99" fill="#939393" stroke="#000" stroke-width="4"/><circle cx="3515.5" cy="1332.5" r="93" fill="none" stroke="#000" stroke-width="2.2"/><circle cx="3515.5" cy="1332.5" r="86" fill="none" stroke="#000" stroke-width="2.2"/><circle cx="3515.5" cy="1332.5" r="79" fill="none" stroke="#000" stroke-width="2.2"/><circle cx="3515.5" cy="1332.5" r="72" fill="none" stroke="#000" stroke-width="2.2"/><circle cx="3515.5" cy="1332.5" r="65" fill="none" stroke="#000" stroke-width="2.2"/><circle cx="3515.5" cy="1332.5" r="58" fill="none" stroke="#000" stroke-width="2.2"/><circle cx="3515.5" cy="1332.5" r="51" fill="none" stroke="#000" stroke-width="2.2"/><circle cx="3515.5" cy="1332.5" r="44" fill="none" stroke="#000" stroke-width="2.2"/><circle cx="3515.5" cy="1332.5" r="37" fill="none" stroke="#000" stroke-width="2.2"/><circle cx="3515.5" cy="1332.5" r="30" fill="none" stroke="#000" stroke-width="2.2"/><path d="M3437.5,1254.5 L3593.5,1410.5 M3593.5,1254.5 L3437.5,1410.5" stroke="#000" stroke-width="5"/><path d="M3435.5,1252.5 l-6,6 M3595.5,1252.5 l6,6 M3435.5,1412.5 l-6,-6 M3595.5,1412.5 l6,-6" stroke="#000" stroke-width="6"/><circle cx="3515.5" cy="1332.5" r="25" fill="#c8c8c8"/></g><g><circle cx="3733" cy="1338.5" r="99" fill="#8a0d12" opacity="0.45" filter="url(#cshadow)"/><circle cx="3727" cy="1332.5" r="99" fill="#939393" stroke="#000" stroke-width="4"/><circle cx="3727" cy="1332.5" r="93" fill="none" stroke="#000" stroke-width="2.2"/><circle cx="3727" cy="1332.5" r="86" fill="none" stroke="#000" stroke-width="2.2"/><circle cx="3727" cy="1332.5" r="79" fill="none" stroke="#000" stroke-width="2.2"/><circle cx="3727" cy="1332.5" r="72" fill="none" stroke="#000" stroke-width="2.2"/><circle cx="3727" cy="1332.5" r="65" fill="none" stroke="#000" stroke-width="2.2"/><circle cx="3727" cy="1332.5" r="58" fill="none" stroke="#000" stroke-width="2.2"/><circle cx="3727" cy="1332.5" r="51" fill="none" stroke="#000" stroke-width="2.2"/><circle cx="3727" cy="1332.5" r="44" fill="none" stroke="#000" stroke-width="2.2"/><circle cx="3727" cy="1332.5" r="37" fill="none" stroke="#000" stroke-width="2.2"/><circle cx="3727" cy="1332.5" r="30" fill="none" stroke="#000" stroke-width="2.2"/><path d="M3649,1254.5 L3805,1410.5 M3805,1254.5 L3649,1410.5" stroke="#000" stroke-width="5"/><path d="M3647,1252.5 l-6,6 M3807,1252.5 l6,6 M3647,1412.5 l-6,-6 M3807,1412.5 l6,-6" stroke="#000" stroke-width="6"/><circle cx="3727" cy="1332.5" r="25" fill="#c8c8c8"/></g><g transform="translate(0.0,0)"><path d="M455,712 V680 A81,81 0 0 1 536,599" fill="none" stroke="#29abe2" stroke-width="39"/><rect x="535.5" y="579.5" width="127.5" height="39" fill="url(#gArrH)"/><path d="M415,709 H498 L457,751 Z" fill="#29abe2"/></g><g transform="translate(349.5,0)"><path d="M455,712 V680 A81,81 0 0 1 536,599" fill="none" stroke="#29abe2" stroke-width="39"/><rect x="535.5" y="579.5" width="127.5" height="39" fill="url(#gArrH)"/><path d="M415,709 H498 L457,751 Z" fill="#29abe2"/></g><g transform="translate(699.0,0)"><path d="M455,712 V680 A81,81 0 0 1 536,599" fill="none" stroke="#29abe2" stroke-width="39"/><rect x="535.5" y="579.5" width="127.5" height="39" fill="url(#gArrH)"/><path d="M415,709 H498 L457,751 Z" fill="#29abe2"/></g><g transform="translate(1048.5,0)"><path d="M455,712 V680 A81,81 0 0 1 536,599" fill="none" stroke="#29abe2" stroke-width="39"/><rect x="535.5" y="579.5" width="127.5" height="39" fill="url(#gArrH)"/><path d="M415,709 H498 L457,751 Z" fill="#29abe2"/></g><g transform="translate(1398.0,0)"><path d="M455,712 V680 A81,81 0 0 1 536,599" fill="none" stroke="#29abe2" stroke-width="39"/><rect x="535.5" y="579.5" width="127.5" height="39" fill="url(#gArrH)"/><path d="M415,709 H498 L457,751 Z" fill="#29abe2"/></g><g transform="translate(1747.5,0)"><path d="M455,712 V680 A81,81 0 0 1 536,599" fill="none" stroke="#29abe2" stroke-width="39"/><rect x="535.5" y="579.5" width="127.5" height="39" fill="url(#gArrH)"/><path d="M415,709 H498 L457,751 Z" fill="#29abe2"/></g><rect x="2694" y="581" width="222" height="38" fill="url(#gArrL)"/><path d="M2655,600 L2696,559 V642 Z" fill="#29abe2"/><path d="M3244,600 H3270 A84,84 0 0 1 3354,684 V690" fill="none" stroke="#29abe2" stroke-width="40"/><rect x="3334" y="690" width="40" height="116" fill="url(#gArrV)"/><path d="M3205,602 L3245,560 V643 Z" fill="#29abe2"/><text x="72" y="1954" font-family="Liberation Sans" font-weight="bold" font-size="84" fill="#000" textLength="155" lengthAdjust="spacingAndGlyphs">ÉTÉ :</text><text x="248" y="1954" font-family="Liberation Sans" font-weight="normal" font-size="84" fill="#333" stroke="#333" stroke-width="0.7" textLength="3439" lengthAdjust="spacingAndGlyphs">Fonctionnement normal, piscine ouverte avec les utilisateurs, déshumidification avec refroidissement (condenseur à</text><text x="72" y="2056" font-family="Liberation Sans" font-weight="normal" font-size="84" fill="#333" stroke="#333" stroke-width="0.7" textLength="295" lengthAdjust="spacingAndGlyphs">distance).</text><text x="72" y="2215" font-family="Liberation Sans" font-weight="bold" font-size="84" fill="#000" textLength="748" lengthAdjust="spacingAndGlyphs">Compresseur : MARCHE</text><text x="72" y="2319" font-family="Liberation Sans" font-weight="normal" font-size="84" fill="#333" stroke="#333" stroke-width="0.7" textLength="1248" lengthAdjust="spacingAndGlyphs">Batterie à eau chaude : ARRÊT (optionnel)</text><text x="72" y="2421" font-family="Liberation Sans" font-weight="normal" font-size="84" fill="#333" stroke="#333" stroke-width="0.7" textLength="1063" lengthAdjust="spacingAndGlyphs">Desurchauffeur : ARRÊT (optionnel)</text><text x="72" y="2527" font-family="Liberation Sans" font-weight="bold" font-size="84" fill="#000" textLength="1434" lengthAdjust="spacingAndGlyphs">Condenseur externe : MARCHE (modèles STR)</text><text x="72" y="2630" font-family="Liberation Sans" font-weight="bold" font-size="84" fill="#000" textLength="580" lengthAdjust="spacingAndGlyphs">Air neuf : MARCHE</text></svg></body></html>
